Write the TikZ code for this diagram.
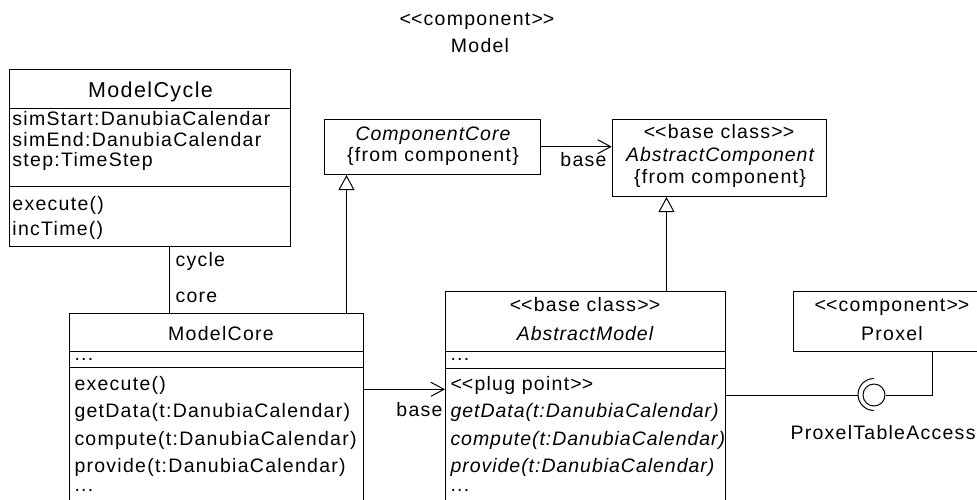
\documentclass[tikz,border=0pt]{standalone}
\usepackage{fontspec}
\setmainfont{Liberation Sans}[LetterSpace=6.5, ItalicFeatures={LetterSpace=5}]
\usetikzlibrary{arrows.meta}
\newcommand\stl{<\kern0pt<}
\newcommand\stg{>\kern0pt>}
\begin{document}
\begin{tikzpicture}[x=1pt,y=-1pt, line width=1pt,
  box/.style={draw, rectangle, inner sep=0pt, anchor=north west},
  txt/.style={inner sep=0pt, anchor=base},
  lt/.style={inner sep=0pt, anchor=base west},
  rt/.style={inner sep=0pt, anchor=base east},
  gen/.style={-{Triangle[open,length=15pt,width=16pt]}},
  nav/.style={-{Straight Barb[length=13pt,width=14pt]}},
  font=\fontsize{19.5}{22}\selectfont]
\useasboundingbox (0,0) rectangle (977,499);
\clip (0,0) rectangle (977,499);
\fill[white] (0,0) rectangle (977,499);
% title
\node[txt] (t1) at (477,25) {\stl component\stg};
\node[txt] (t2) at (480,52.7) {Model};
% ModelCycle
\node[box, minimum width=281pt, minimum height=177pt] (mcy) at (9,69) {};
\draw (9,108.3) -- (290,108.3);
\draw (9,186) -- (290,186);
\node[txt] (mcyn) at (150.5,97) {\fontsize{21.5}{22}\selectfont ModelCycle};
\node[lt] (a1) at (12,125.7) {simStart:DanubiaCalendar};
\node[lt] (a2) at (12,146) {simEnd:DanubiaCalendar};
\node[lt] (a3) at (12,166.7) {step:TimeStep};
\node[lt] (o1) at (12,210.5) {execute()};
\node[lt] (o2) at (12,235.5) {incTime()};
% ModelCore
\node[box, minimum width=293.4pt, minimum height=220pt] (mcore) at (69.3,312.7) {};
\draw (69.3,351.7) -- (362.7,351.7);
\draw (69.3,367.7) -- (362.7,367.7);
\node[txt] (mcoren) at (221,340) {ModelCore};
\node[lt] (b0) at (74,360.5) {...};
\node[lt] (b1) at (74,390) {execute()};
\node[lt] (b2) at (74,417.5) {getData(t:DanubiaCalendar)};
\node[lt] (b3) at (74,445) {compute(t:DanubiaCalendar)};
\node[lt] (b4) at (74,472.5) {provide(t:DanubiaCalendar)};
\node[lt] (b5) at (74,491) {...};
% ComponentCore
\node[box, minimum width=216pt, minimum height=55pt] (cc) at (324,119) {};
\node[txt] (cc1) at (433,140) {\itshape ComponentCore};
\node[txt] (cc2) at (433,161.7) {\{from component\}};
% AbstractComponent
\node[box, minimum width=214.3pt, minimum height=77pt] (ac) at (611.7,119) {};
\node[txt] (ac1) at (719,138) {\stl base class\stg};
\node[txt] (ac2) at (720,161.7) {\itshape AbstractComponent};
\node[txt] (ac3) at (720,183.3) {\{from component\}};
% AbstractModel
\node[box, minimum width=280pt, minimum height=240pt] (am) at (445,290.7) {};
\draw (445,351) -- (725,351);
\draw (445,368.3) -- (725,368.3);
\node[txt] (am1) at (585,311.7) {\stl base class\stg};
\node[txt] (am2) at (585,340) {\itshape AbstractModel};
\node[lt] (c0) at (450,360.5) {...};
\node[lt] (c1) at (450,390) {\stl plug point\stg};
\node[lt] (c2) at (450,417.7) {\itshape getData(t:DanubiaCalendar)};
\node[lt] (c3) at (450,445) {\itshape compute(t:DanubiaCalendar)};
\node[lt] (c4) at (450,472.5) {\itshape provide(t:DanubiaCalendar)};
\node[lt] (c5) at (450,491) {...};
% Proxel
\node[box, minimum width=198pt, minimum height=60.5pt] (px) at (793.3,290.5) {};
\node[txt] (px1) at (892,311.7) {\stl component\stg};
\node[txt] (px2) at (892,340) {Proxel};
% interface
\node[circle, draw, minimum size=22pt, inner sep=0pt] (ball) at (874,395) {};
\draw (874,410.5) arc[start angle=90, end angle=270, radius=16];
\coordinate (sock) at (858,395);
\node[lt] (pta) at (790,439) {ProxelTableAccess};
% connectors
\draw (169.3,0 |- mcy.south) -- (169.3,0 |- mcore.north);
\node[lt] (l1) at (175,266.7) {cycle};
\node[lt] (l2) at (175,302) {core};
\draw[gen] (346.5,0 |- mcore.north) -- (346.5,0 |- cc.south);
\draw[gen] (666.5,0 |- am.north) -- (666.5,0 |- ac.south);
\draw[nav] (cc.east |- 0,146.7) -- (ac.west |- 0,146.7);
\node[rt] (l3) at (607,166.7) {base};
\draw[nav] (mcore.east |- 0,389.3) -- (am.west |- 0,389.3);
\node[rt] (l4) at (443,416.7) {base};
\draw (am.east |- sock) -- (sock);
\draw (ball.east) -- (932.7,0 |- ball.east) -- (932.7,0 |- px.south);
\end{tikzpicture}
\end{document}
